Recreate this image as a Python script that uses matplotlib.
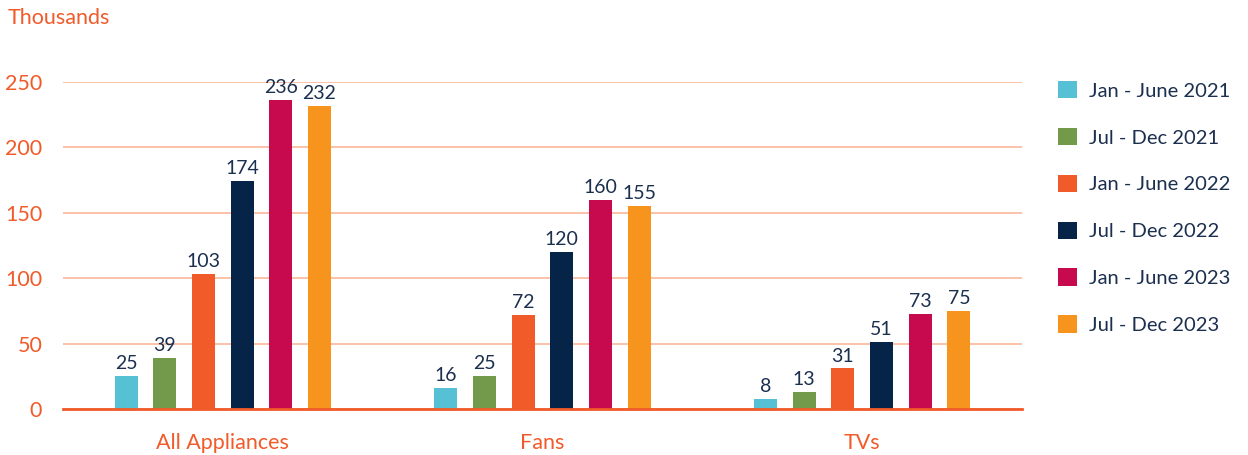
import matplotlib
matplotlib.use("Agg")
import matplotlib.pyplot as plt
import numpy as np

categories = ["All Appliances", "Fans", "TVs"]
series_names = ["Jan - June 2021", "Jul - Dec 2021", "Jan - June 2022",
                "Jul - Dec 2022", "Jan - June 2023", "Jul - Dec 2023"]
values = [
    [25, 16, 8],
    [39, 25, 13],
    [103, 72, 31],
    [174, 120, 51],
    [236, 160, 73],
    [232, 155, 75],
]
colors = ["#56C1D5", "#739A4B", "#F15A29", "#052448", "#C70A4D", "#F7941D"]
yticks = [0, 50, 100, 150, 200, 250]

ORANGE = "#F15A29"
NAVY = "#1B2F4F"
GRID = "#F9B89A"

plt.rcParams['font.family'] = ['Lato', 'DejaVu Sans']

fig = plt.figure(figsize=(12.48, 4.55), dpi=100)
ax = fig.add_axes([63/1248, 1-409/455, (1022-63)/1248, (409-82)/455])

x = np.arange(len(categories))
pitch = 0.121
width = 0.072
n = len(series_names)
for i, (name, vals, c) in enumerate(zip(series_names, values, colors)):
    pos = x + (i - (n-1)/2) * pitch
    bars = ax.bar(pos, vals, width=width, color=c, label=name, zorder=3)
    for b, v in zip(bars, vals):
        ax.text(b.get_x() + b.get_width()/2, v + 3, str(v), ha='center', va='bottom',
                fontsize=14, color=NAVY, zorder=4)

ax.set_xlim(-0.5, 2.5)
ax.set_ylim(0, 250)
ax.set_yticks(yticks)
ax.set_yticklabels([str(t) for t in yticks], fontsize=15.5, color=ORANGE)
ax.set_xticks(x)
ax.set_xticklabels(categories, fontsize=15.5, color=ORANGE)
ax.tick_params(axis='both', length=0)
ax.tick_params(axis='y', pad=15)
ax.tick_params(axis='x', pad=17)
ax.yaxis.grid(True, color=GRID, linewidth=1.2, zorder=0)
for s in ['top', 'right', 'left']:
    ax.spines[s].set_visible(False)
ax.spines['bottom'].set_color(ORANGE)
ax.spines['bottom'].set_linewidth(2)
ax.spines['bottom'].set_zorder(5)
ax.set_axisbelow(True)

fig.text(8/1248, 1-18/455, "Thousands", fontsize=15.5, color=ORANGE, ha='left', va='center')

leg = ax.legend(loc='upper left', bbox_to_anchor=(1040/1248, 1-63/455), bbox_transform=fig.transFigure,
                frameon=False, fontsize=14.5, labelcolor=NAVY, handlelength=0.95, handleheight=0.95,
                labelspacing=1.4, handletextpad=0.6)

fig.savefig("out.png", dpi=100)
